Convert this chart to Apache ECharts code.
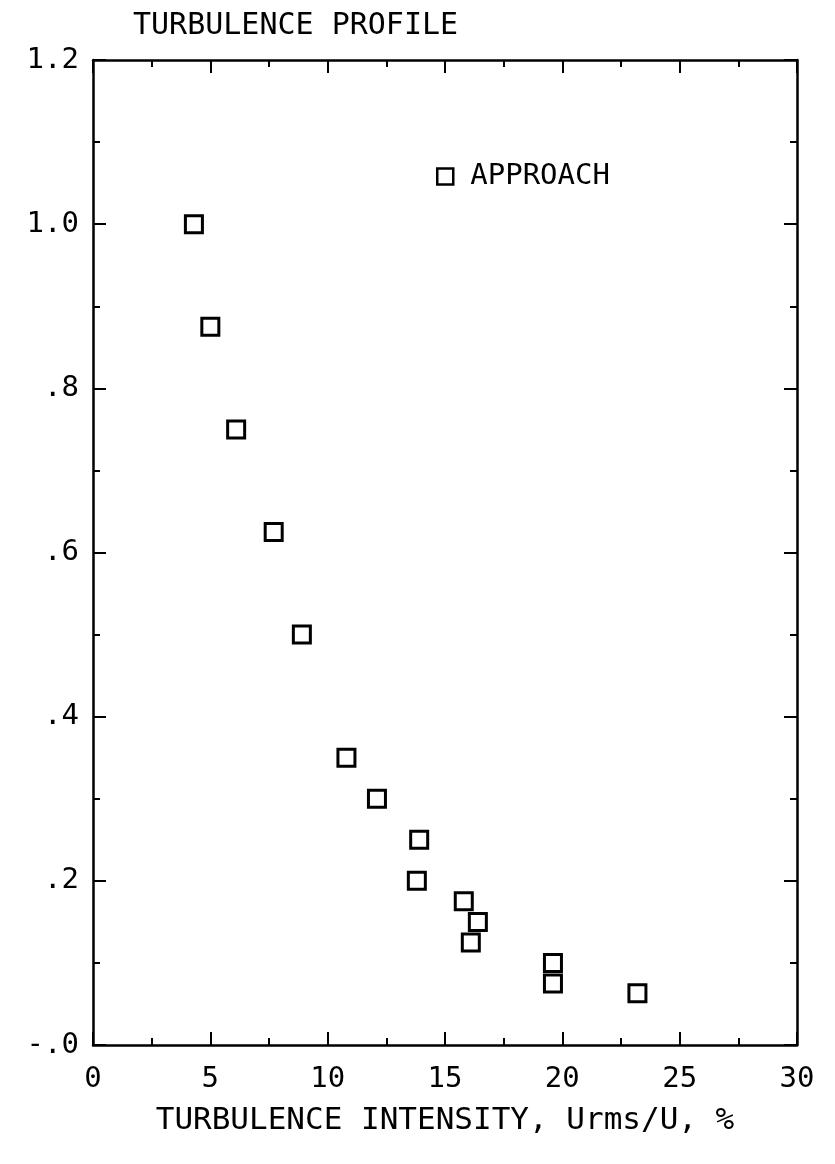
<!DOCTYPE html>
<html>
<head>
<meta charset="utf-8">
<script src="https://cdn.jsdelivr.net/npm/echarts@6/dist/echarts.min.js"></script>
<style>
html,body{margin:0;padding:0;background:#fff;}
#chart{width:835px;height:1164px;}
</style>
</head>
<body>
<div id="chart"></div>
<script>
const titleText = 'TURBULENCE PROFILE';
const xAxisTitle = 'TURBULENCE INTENSITY, Urms/U, %';
const seriesName = 'APPROACH';
const intensity = [4.3, 5.0, 6.1, 7.7, 8.9, 10.8, 12.1, 13.9, 13.8, 15.8, 16.4, 16.1, 19.6, 19.6, 23.2];
const height = [1.0, 0.875, 0.75, 0.625, 0.5, 0.35, 0.3, 0.25, 0.2, 0.175, 0.15, 0.125, 0.1, 0.075, 0.063];
const yTickValues = [0, 0.2, 0.4, 0.6, 0.8, 1.0, 1.2];
const yTickLabels = ['-.0', '.2', '.4', '.6', '.8', '1.0', '1.2'];
const xTickLabels = ['0', '5', '10', '15', '20', '25', '30'];

const FONT = 'DejaVu Sans Mono';
const chart = echarts.init(document.getElementById('chart'), null, {renderer: 'canvas'});

function yLabel(v) {
  for (let i = 0; i < yTickValues.length; i++) {
    if (Math.abs(v - yTickValues[i]) < 1e-6) return yTickLabels[i];
  }
  return '';
}
function xLabel(v) {
  const i = Math.round(v / 5);
  return xTickLabels[i] !== undefined ? xTickLabels[i] : '';
}

const lineStyle = {color: '#000', width: 2.5};
const tickCommon = {show: true, inside: true, length: 13, lineStyle: {color: '#000', width: 2}};
const minorCommon = {show: true, length: 7, lineStyle: {color: '#000', width: 2}};
const axisLineCommon = {show: true, onZero: false, lineStyle: lineStyle};

chart.setOption({
  backgroundColor: '#fff',
  animation: false,
  title: {
    text: titleText,
    left: 128, top: 6,
    textStyle: {fontFamily: FONT, fontSize: 30, fontWeight: 'normal', color: '#000'}
  },
  legend: {
    data: [seriesName],
    left: 431, top: 157,
    itemWidth: 16, itemHeight: 16,
    icon: 'rect',
    itemStyle: {color: '#fff', borderColor: '#000', borderWidth: 2.5},
    textStyle: {fontFamily: FONT, fontSize: 29, color: '#000', padding: [0, 0, 0, 12]}
  },
  grid: {left: 93, right: 38, top: 60, bottom: 119},
  xAxis: [
    {
      type: 'value', min: 0, max: 30, interval: 5, position: 'bottom',
      name: xAxisTitle, nameLocation: 'middle', nameGap: 60,
      nameTextStyle: {fontFamily: FONT, fontSize: 31, color: '#000'},
      axisLine: axisLineCommon,
      axisTick: tickCommon,
      minorTick: Object.assign({splitNumber: 2}, minorCommon),
      splitLine: {show: false},
      axisLabel: {fontFamily: FONT, fontSize: 29, color: '#000', margin: 20, formatter: xLabel}
    },
    {
      type: 'value', min: 0, max: 30, interval: 5, position: 'top',
      axisLine: axisLineCommon,
      axisTick: tickCommon,
      minorTick: Object.assign({splitNumber: 2}, minorCommon),
      splitLine: {show: false},
      axisLabel: {show: false}
    }
  ],
  yAxis: [
    {
      type: 'value', min: 0, max: 1.2, interval: 0.2, position: 'left',
      axisLine: axisLineCommon,
      axisTick: tickCommon,
      minorTick: Object.assign({splitNumber: 2}, minorCommon),
      splitLine: {show: false},
      axisLabel: {fontFamily: FONT, fontSize: 29, color: '#000', margin: 14, formatter: yLabel}
    },
    {
      type: 'value', min: 0, max: 1.2, interval: 0.2, position: 'right',
      axisLine: axisLineCommon,
      axisTick: tickCommon,
      minorTick: Object.assign({splitNumber: 2}, minorCommon),
      splitLine: {show: false},
      axisLabel: {show: false}
    }
  ],
  series: [
    {
      name: seriesName,
      type: 'scatter',
      symbol: 'rect',
      symbolSize: 17,
      itemStyle: {color: '#fff', borderColor: '#000', borderWidth: 3, opacity: 1},
      data: intensity.map((x, i) => [x, height[i]])
    }
  ]
});
</script>
</body>
</html>
